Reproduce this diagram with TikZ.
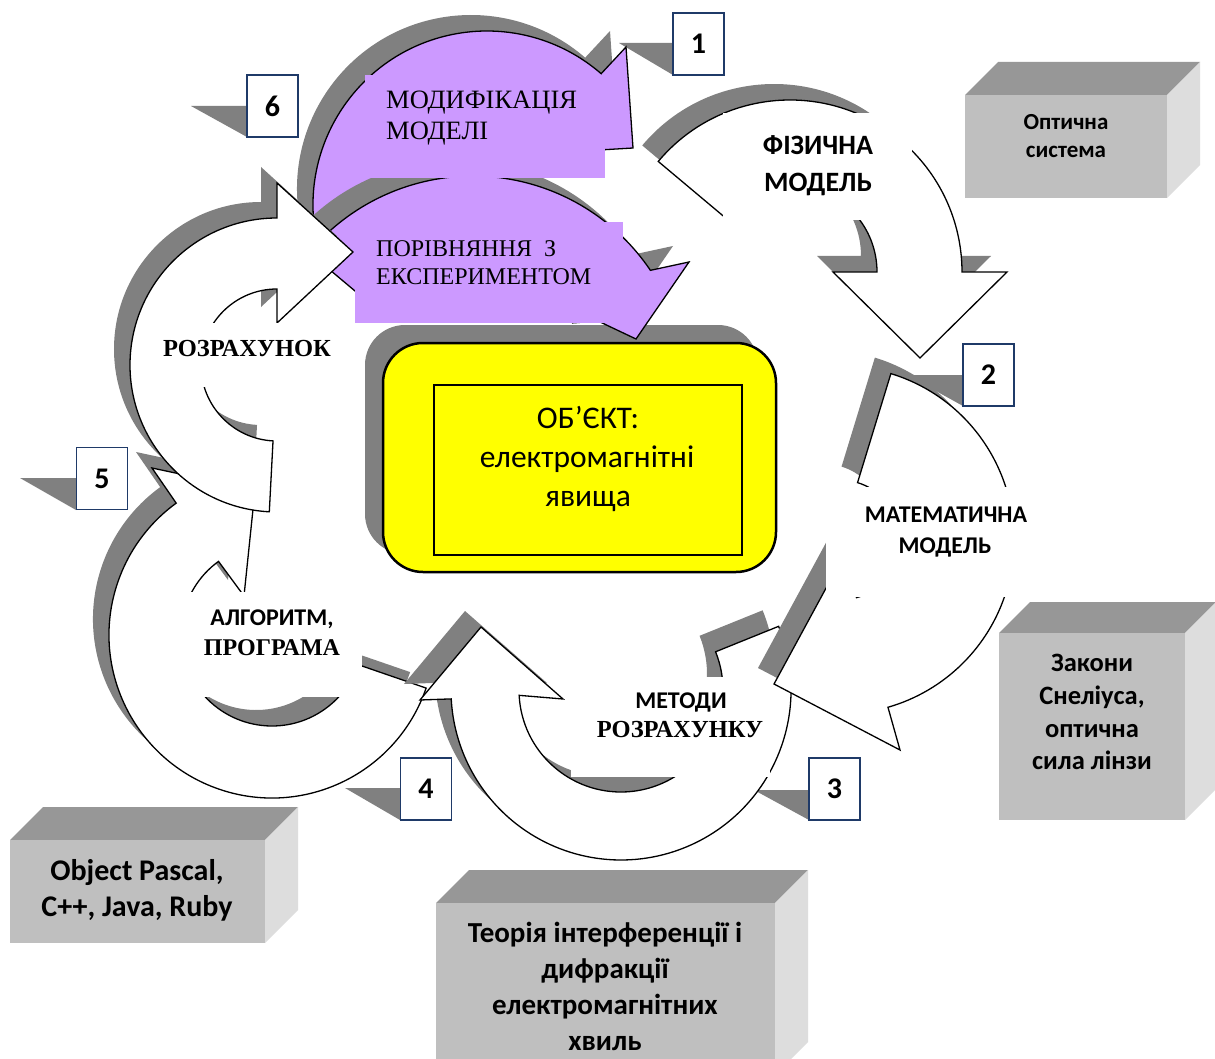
\documentclass[tikz,border=0pt]{standalone}
\usepackage{fontspec}
\newfontfamily\carlito{Carlito}
\newfontfamily\tnr{Liberation Serif}
\definecolor{shd}{HTML}{808080}
\definecolor{purp}{HTML}{CC99FF}
\definecolor{navyb}{HTML}{1F3A68}
\definecolor{boxfront}{HTML}{BFBFBF}
\definecolor{boxtop}{HTML}{979797}
\definecolor{boxside}{HTML}{DDDDDD}
\definecolor{yel}{HTML}{FFFF00}
% circular arrow: style, cx, cy, Rout, Rin, start, end, head points
\newcommand{\cirarr}[8]{%
  \path[#1] ({#2+#5*cos(#6)},{#3+#5*sin(#6)}) -- ({#2+#4*cos(#6)},{#3+#4*sin(#6)})
    arc[start angle=#6, end angle=#7, radius=#4] -- #8 --
    ({#2+#5*cos(#7)},{#3+#5*sin(#7)})
    arc[start angle=#7, end angle=#6, radius=#5] -- cycle;}
\newcommand{\arrowpair}[8]{%
  \cirarr{fill=shd, shift={(-16,-16)}}{#2}{#3}{#4}{#5}{#6}{#7}{#8}%
  \cirarr{fill=#1, draw=black, line width=1.3}{#2}{#3}{#4}{#5}{#6}{#7}{#8}}
\newcommand{\cubebox}[5]{%
  \fill[boxtop] (#1,#2) -- ({#1+#5},{#2-#5}) -- ({#3+#5},{#2-#5}) -- (#3,#2) -- cycle;
  \fill[boxside] (#3,#2) -- ({#3+#5},{#2-#5}) -- ({#3+#5},{#4-#5}) -- (#3,#4) -- cycle;
  \fill[boxfront] (#1,#2) rectangle (#3,#4);}
\begin{document}
\begin{tikzpicture}[x=1pt,y=1pt,yscale=-1,
  cb/.style={font=\carlito\bfseries\fontsize{#1}{#1}\selectfont, inner sep=0pt, anchor=base},
  cr/.style={font=\carlito\fontsize{#1}{#1}\selectfont, inner sep=0pt, anchor=base},
  tb/.style={font=\tnr\bfseries\fontsize{#1}{#1}\selectfont, inner sep=0pt, anchor=base},
  tr/.style={font=\tnr\fontsize{#1}{#1}\selectfont, inner sep=0pt, anchor=base west},
  numbox/.style={draw=navyb, line width=1.8, fill=white, minimum width=51pt,
    minimum height=62pt, inner sep=0pt, font=\carlito\bfseries\fontsize{30}{30}\selectfont},
  tri/.style={fill=shd}]
\useasboundingbox (0,0) rectangle (1215,1059);
\fill[white] (0,0) rectangle (1215,1059);

% central object
\fill[shd, rounded corners=40] (365,325) rectangle (758,554);
\draw[fill=yel, line width=2.5, rounded corners=40] (383,343) rectangle (776,572);
\draw[line width=1.3] (434,385) rectangle (742,555);

% triangles beside number boxes
\fill[tri] (619,43) -- (673,43) -- (673,75) -- cycle;
\fill[tri] (191,106) -- (247,106) -- (247,137) -- cycle;
\fill[tri] (907,375) -- (963,375) -- (963,406) -- cycle;
\fill[tri] (20,478) -- (76,478) -- (76,510) -- cycle;
\fill[tri] (345,788) -- (400,788) -- (400,820) -- cycle;
\fill[tri] (754,790) -- (809,790) -- (809,820) -- cycle;

% arrows
\arrowpair{purp}{487}{205}{174}{104}{170}{311}{(626,47) -- (633,148) -- (532,154)}
\arrowpair{purp}{473}{390}{214}{120}{220}{326}{(689,262) -- (636,339) -- (598,321)}
\arrowpair{white}{272}{635}{163}{91}{19}{234}{(152,468) -- (255,490) -- (244,596)}
\arrowpair{white}{277}{365}{147}{76}{93}{270}{(277,183) -- (353,252) -- (277,323)}
\arrowpair{white}{621}{690}{170}{102}{-22}{177}{(420,700) -- (481,627) -- (563,699)}
\arrowpair{white}{840}{540}{174}{60}{-73}{74}{(900,750) -- (774,684) -- (844,555)}
\arrowpair{white}{790}{272}{172}{87}{-140}{0}{(1007,272) -- (920,358) -- (833,272)}

% text backgrounds
\fill[white] (723,113) rectangle (912,220);
\fill[white] (826,487) rectangle (1030,597);
\fill[white] (571,677) rectangle (770,777);
\fill[white] (176,592) rectangle (362,697);
\fill[white] (198,323) rectangle (336,387);
\fill[purp] (365,75) rectangle (605,178);
\fill[purp] (355,222) rectangle (623,323);

% labels
\node[cb=28] (fa) at (818,155) {ФІЗИЧНА};
\node[cb=28] (fb) at (818,192) {МОДЕЛЬ};
\node[cb=24] (ma) at (946,522) {МАТЕМАТИЧНА};
\node[cb=24] (mb) at (945,553) {МОДЕЛЬ};
\node[cb=24] (ra) at (681,708) {МЕТОДИ};
\node[tb=24.5] (rb) at (680,737) {РОЗРАХУНКУ};
\node[cb=24] (aa) at (272,625) {АЛГОРИТМ,};
\node[tb=24] (ab) at (272,655) {ПРОГРАМА};
\node[tb=24.5] (pa) at (247,356) {РОЗРАХУНОК};
\node[tr=24] (ca) at (376,257) {ПОРІВНЯННЯ\ \ З};
\node[tr=24] (cb) at (376,285) {ЕКСПЕРИМЕНТОМ};
\node[tr=26.5] (da) at (386,109) {МОДИФІКАЦІЯ};
\node[tr=26.5] (db) at (386,140) {МОДЕЛІ};
\node[cr=31.5] (oa) at (588,428) {ОБ’ЄКТ:};
\node[cr=31.5] (ob) at (587,467) {електромагнітні};
\node[cr=31.5] (oc) at (588,506) {явища};

% 3D boxes
\cubebox{965}{95}{1167}{198}{33}
\node[cb=23] (sa) at (1066,130) {Оптична};
\node[cb=23] (sb) at (1066,158) {система};
\cubebox{999}{633}{1185}{820}{31}
\node[cb=26.5] (za) at (1092,671) {Закони};
\node[cb=26.5] (zb) at (1092,704) {Снеліуса,};
\node[cb=26.5] (zc) at (1092,737) {оптична};
\node[cb=26.5] (zd) at (1092,769) {сила лінзи};
\cubebox{10}{840}{265}{943}{33}
\node[cb=30] (ja) at (137,880) {Object Pascal,};
\node[cb=30] (jb) at (137,916) {C++, Java, Ruby};
\cubebox{436}{903}{775}{1075}{33}
\node[cb=29] (ta) at (605,942) {Теорія інтерференції і};
\node[cb=29] (tb) at (605,978) {дифракції};
\node[cb=29] (tc) at (605,1014) {електромагнітних};
\node[cb=29] (td) at (605,1050) {хвиль};

% number boxes
\node[numbox] (n1) at (698.5,44) {1};
\node[numbox] (n2) at (988.5,375) {2};
\node[numbox] (n3) at (834.5,789) {3};
\node[numbox] (n4) at (426,789) {4};
\node[numbox] (n5) at (102,478.5) {5};
\node[numbox] (n6) at (272.5,106) {6};
\end{tikzpicture}
\end{document}
